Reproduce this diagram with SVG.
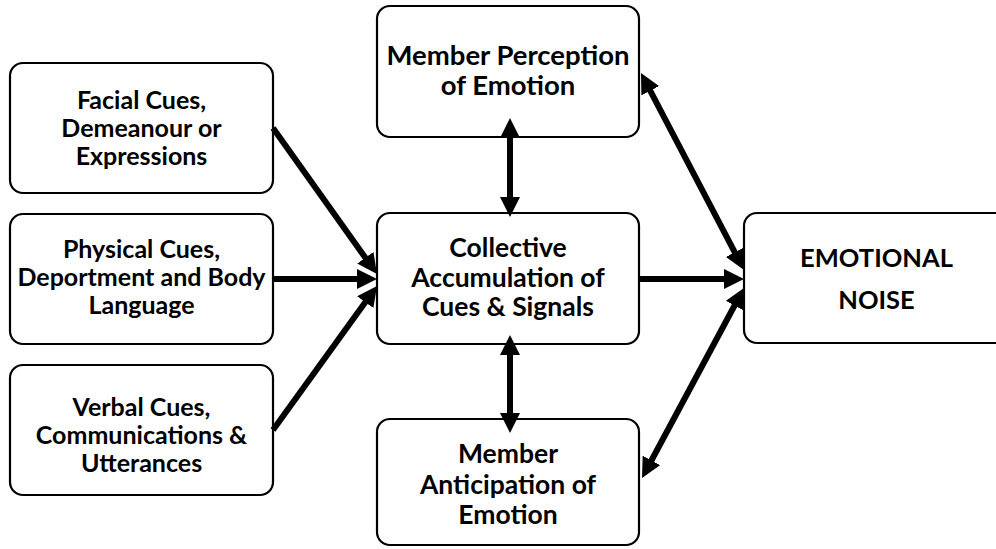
<svg xmlns="http://www.w3.org/2000/svg" width="996" height="549" viewBox="0 0 996 549">
  <style>
    .box { fill: #ffffff; stroke: #000000; stroke-width: 2.2; }
    .lbl { font-family: Lato, "Liberation Sans", sans-serif; font-weight: bold; fill: #000000; text-anchor: middle; }
    .sm { font-size: 25px; }
    .md { font-size: 26.5px; }
    .xl { font-size: 27.5px; }
    .lg { font-size: 25.5px; }
    .conn { stroke: #000000; stroke-width: 6; fill: none; }
    .one { marker-end: url(#head); }
    .two { marker-start: url(#head); marker-end: url(#head); }
  </style>
  <defs>
    <marker id="head" markerUnits="userSpaceOnUse" markerWidth="20" markerHeight="20" refX="12" refY="10" orient="auto-start-reverse">
      <path d="M0,0 L20,10 L0,20 Z" fill="#000000"/>
    </marker>
  </defs>

  <!-- source cues -->
  <g id="facial">
    <rect class="box" x="10" y="63" width="263" height="130" rx="13"/>
    <text class="lbl sm" x="141.5" y="109">Facial Cues,</text>
    <text class="lbl sm" x="141.5" y="137">Demeanour or</text>
    <text class="lbl sm" x="141.5" y="165">Expressions</text>
  </g>
  <g id="physical">
    <rect class="box" x="10" y="214" width="263" height="130" rx="13"/>
    <text class="lbl sm" x="141.5" y="258">Physical Cues,</text>
    <text class="lbl sm" x="141.5" y="286">Deportment and Body</text>
    <text class="lbl sm" x="141.5" y="314">Language</text>
  </g>
  <g id="verbal">
    <rect class="box" x="10" y="365" width="263" height="130" rx="13"/>
    <text class="lbl sm" x="141.5" y="416">Verbal Cues,</text>
    <text class="lbl sm" x="141.5" y="444">Communications &amp;</text>
    <text class="lbl sm" x="141.5" y="472">Utterances</text>
  </g>

  <!-- central column -->
  <g id="perception">
    <rect class="box" x="377" y="6" width="262" height="131" rx="13"/>
    <text class="lbl xl" x="508" y="65">Member Perception</text>
    <text class="lbl xl" x="508" y="95">of Emotion</text>
  </g>
  <g id="collective">
    <rect class="box" x="377" y="213" width="262" height="131" rx="13"/>
    <text class="lbl md" x="508" y="257">Collective</text>
    <text class="lbl md" x="508" y="287">Accumulation of</text>
    <text class="lbl md" x="508" y="316">Cues &amp; Signals</text>
  </g>
  <g id="anticipation">
    <rect class="box" x="377" y="419" width="262" height="126" rx="13"/>
    <text class="lbl md" x="508" y="463">Member</text>
    <text class="lbl md" x="508" y="494">Anticipation of</text>
    <text class="lbl md" x="508" y="524">Emotion</text>
  </g>

  <!-- outcome -->
  <g id="noise">
    <rect class="box" x="744" y="213" width="270" height="130" rx="13"/>
    <text class="lbl lg" x="876.5" y="267">EMOTIONAL</text>
    <text class="lbl lg" x="876.5" y="309">NOISE</text>
  </g>

  <!-- connectors, drawn over the box outlines -->
  <g id="connectors">
    <line class="conn one" x1="273" y1="128" x2="372.3" y2="267.5"/>
    <line class="conn one" x1="273" y1="279" x2="369" y2="279"/>
    <line class="conn one" x1="273" y1="430" x2="372.3" y2="292.5"/>
    <line class="conn one" x1="639" y1="279" x2="736" y2="279"/>
    <line class="conn two" x1="644.7" y1="80.1" x2="740.3" y2="262.9"/>
    <line class="conn two" x1="645.8" y1="471" x2="740.2" y2="295"/>
    <line class="conn two" x1="510" y1="126" x2="510" y2="209"/>
    <line class="conn two" x1="510" y1="343" x2="510" y2="425"/>
  </g>
</svg>
